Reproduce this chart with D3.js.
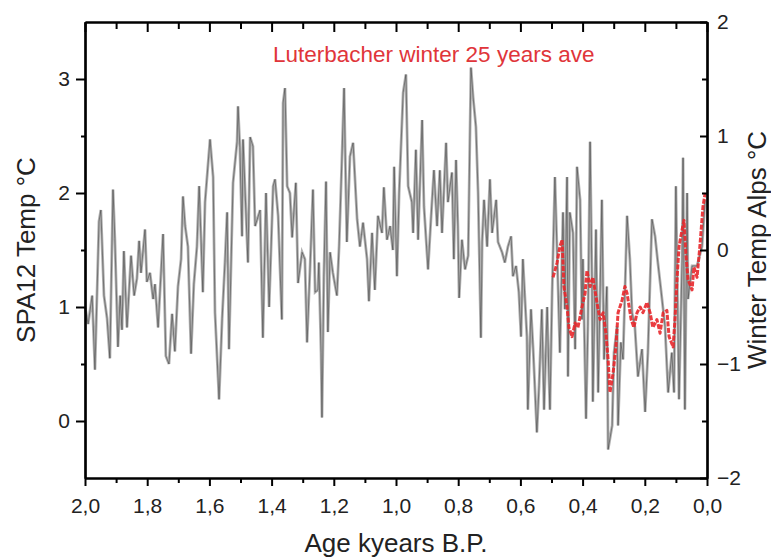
<!DOCTYPE html>
<html>
<head>
<meta charset="utf-8">
<script src="https://cdn.jsdelivr.net/npm/d3@7"></script>
<style>
  body { margin: 0; background: #fff; }
  svg { font-family: "Liberation Sans", Arial, sans-serif; }
</style>
</head>
<body>
<svg id="chart"></svg>
<script>
// ===========================
// Data
// ===========================

// SPA12 stalagmite temperature (left axis), age in kyears B.P.
const spaAge = [2.000,1.990,1.977,1.968,1.955,1.949,1.939,1.929,1.920,1.910,1.904,1.894,1.887,1.881,1.875,1.865,
  1.852,1.842,1.833,1.826,1.820,1.807,1.801,1.791,1.781,1.775,1.765,1.749,1.740,1.730,1.720,1.711,1.701,1.691,
  1.685,1.678,1.669,1.659,1.650,1.640,1.633,1.627,1.621,1.614,1.598,1.588,1.582,1.572,1.569,1.559,1.550,1.543,
  1.537,1.524,1.511,1.508,1.502,1.495,1.492,1.476,1.469,1.460,1.453,1.437,1.428,1.418,1.408,1.395,1.389,1.379,
  1.367,1.363,1.357,1.350,1.341,1.334,1.322,1.315,1.302,1.293,1.286,1.277,1.267,1.260,1.251,1.248,1.241,1.238,
  1.232,1.225,1.219,1.212,1.203,1.190,1.183,1.174,1.167,1.161,1.158,1.148,1.138,1.125,1.116,1.106,1.093,1.087,
  1.077,1.068,1.058,1.045,1.039,1.029,1.019,1.010,1.006,0.997,0.990,0.987,0.977,0.968,0.961,0.949,0.945,0.936,
  0.929,0.916,0.910,0.897,0.887,0.878,0.868,0.859,0.852,0.839,0.833,0.820,0.814,0.807,0.801,0.797,0.788,0.778,
  0.768,0.765,0.759,0.752,0.743,0.736,0.727,0.723,0.717,0.707,0.698,0.691,0.678,0.672,0.659,0.650,0.640,0.630,
  0.624,0.614,0.605,0.598,0.592,0.579,0.576,0.566,0.559,0.547,0.540,0.531,0.524,0.514,0.508,0.505,0.498,0.489,
  0.482,0.473,0.463,0.457,0.450,0.447,0.441,0.431,0.424,0.418,0.408,0.402,0.399,0.389,0.383,0.376,0.370,0.367,
  0.357,0.350,0.338,0.331,0.322,0.318,0.305,0.299,0.289,0.286,0.277,0.270,0.257,0.248,0.241,0.232,0.222,0.209,
  0.199,0.190,0.177,0.167,0.158,0.148,0.135,0.125,0.113,0.106,0.100,0.090,0.080,0.077,0.071,0.064,0.061,0.048,
  0.032,0.016,0.006];
const spaTemp = [1.00,0.85,1.10,0.45,1.75,1.85,1.10,0.90,0.55,2.03,1.60,0.65,1.10,0.80,1.49,0.82,
  1.45,1.10,1.25,1.58,1.30,1.68,1.22,1.30,1.07,1.20,0.82,1.64,0.57,0.50,0.94,0.61,1.18,1.42,
  1.97,1.71,1.53,0.59,1.20,1.53,2.06,1.60,1.13,1.92,2.47,2.14,0.95,0.37,0.19,0.90,1.39,1.83,
  0.63,2.09,2.45,2.76,2.40,1.62,2.47,1.39,2.49,2.41,1.71,1.85,0.73,2.00,1.00,2.06,2.12,1.80,
  0.89,2.79,2.92,2.06,2.00,1.61,2.09,1.21,1.48,1.42,0.69,1.30,2.03,1.13,1.15,1.39,0.60,0.03,
  1.27,2.10,0.78,1.48,1.30,1.10,1.53,2.29,2.92,2.00,1.57,2.32,2.44,1.77,1.53,1.74,1.42,1.05,
  1.65,1.15,1.80,1.65,2.05,1.59,1.71,1.50,2.23,1.27,2.00,2.20,2.88,3.04,2.06,1.92,1.65,2.38,
  1.59,2.64,1.88,1.33,1.80,2.20,1.71,2.20,1.65,2.44,1.92,2.18,1.42,2.29,1.71,1.08,1.59,1.33,
  1.45,2.00,3.10,2.84,2.58,2.00,0.73,1.57,1.94,1.53,2.12,1.65,1.94,1.57,1.48,1.39,1.53,1.62,
  1.27,1.36,1.13,0.74,1.42,0.74,0.10,0.98,0.63,-0.10,0.31,0.98,0.10,1.00,0.37,0.10,1.13,2.14,
  1.48,0.60,1.83,0.98,2.14,0.39,1.83,1.65,0.63,2.23,1.94,0.89,1.42,0.02,0.83,2.45,1.27,0.17,
  1.68,0.25,1.94,0.54,1.18,-0.25,-0.04,0.60,0.83,-0.04,0.69,0.54,1.80,1.42,0.95,0.83,0.39,0.63,
  0.08,0.60,1.77,1.62,1.39,1.15,0.83,0.25,0.60,0.25,2.06,0.19,1.42,2.31,0.10,2.00,1.07,1.36,
  1.36,1.53,1.94];

// Luterbacher winter temperature, 25 years average (right axis)
const lutAge = [0.495,0.482,0.473,0.466,0.460,0.450,0.444,0.434,0.424,0.415,0.402,0.392,0.386,0.376,0.367,0.354,
  0.344,0.334,0.325,0.318,0.312,0.302,0.293,0.286,0.273,0.264,0.257,0.244,0.235,0.225,0.215,0.206,0.193,0.183,
  0.174,0.161,0.151,0.141,0.129,0.122,0.109,0.103,0.096,0.090,0.080,0.074,0.068,0.061,0.048,0.042,0.032,0.023,
  0.013,0.006];
const lutTemp = [-0.24,-0.11,0.03,0.09,-0.32,-0.50,-0.68,-0.76,-0.64,-0.68,-0.50,-0.38,-0.18,-0.32,-0.24,-0.46,
  -0.61,-0.55,-0.73,-0.96,-1.25,-1.08,-0.85,-0.55,-0.44,-0.32,-0.38,-0.61,-0.68,-0.55,-0.50,-0.55,-0.46,-0.55,
  -0.68,-0.61,-0.73,-0.55,-0.53,-0.76,-0.85,-0.61,-0.24,0.03,0.18,0.26,-0.03,-0.26,-0.35,-0.15,-0.24,0.03,
  0.38,0.50];

// Ticks
const xMajor = [2.0,1.8,1.6,1.4,1.2,1.0,0.8,0.6,0.4,0.2,0.0];
const xMinor = [1.9,1.7,1.5,1.3,1.1,0.9,0.7,0.5,0.3,0.1];
const yLeftMajor = [0,1,2,3];
const yLeftMinor = [0.5,1.5,2.5];
const yRightMajor = [-2,-1,0,1,2];
const yRightMinor = [-1.5,-0.5,0.5,1.5];

// ===========================
// Layout
// ===========================
const W = 771, H = 557;
const margin = { top: 22, right: 64, bottom: 79, left: 85 };
const width = W - margin.left - margin.right,
      height = H - margin.top - margin.bottom;

const svg = d3.select("#chart")
  .attr("width", W)
  .attr("height", H);

const g = svg.append("g")
  .attr("transform", `translate(${margin.left},${margin.top})`);

// Scales
const x = d3.scaleLinear().domain([2, 0]).range([0, width]);
const yL = d3.scaleLinear().domain([-0.5, 3.5]).range([height, 0]);
const yR = d3.scaleLinear().domain([-2, 2]).range([height, 0]);

const comma = d => d3.format(".1f")(d).replace(".", ",");

// ===========================
// Lines
// ===========================
const spa = spaAge.map((a, i) => ({ age: a, t: spaTemp[i] }));
const lut = lutAge.map((a, i) => ({ age: a, t: lutTemp[i] }));

const lineL = d3.line().x(d => x(d.age)).y(d => yL(d.t));
const lineR = d3.line().x(d => x(d.age)).y(d => yR(d.t));

// grey envelope
g.append("path")
  .datum(spa)
  .attr("fill", "none")
  .attr("stroke", "#b2b2b2")
  .attr("stroke-width", 2.8)
  .attr("d", lineL);

// black thin line on top
g.append("path")
  .datum(spa)
  .attr("fill", "none")
  .attr("stroke", "#1e1e1e")
  .attr("stroke-width", 0.7)
  .attr("stroke-opacity", 0.6)
  .attr("d", lineL);

// Luterbacher red
g.append("path")
  .datum(lut)
  .attr("fill", "none")
  .attr("stroke", "#e8272b")
  .attr("stroke-width", 3)
  .attr("stroke-opacity", 0.9)
  .attr("stroke-dasharray", "5,1.5")
  .attr("stroke-linejoin", "round")
  .attr("d", lineR);

// ===========================
// Axes
// ===========================
function styleAxis(sel) {
  sel.select(".domain").attr("stroke", "#000").attr("stroke-width", 2.2);
  sel.selectAll(".tick line").attr("stroke", "#000").attr("stroke-width", 2);
  sel.selectAll(".tick text").attr("fill", "#222").style("font-size", "21px");
}

// bottom
g.append("g")
  .attr("transform", `translate(0,${height})`)
  .call(d3.axisBottom(x).tickValues(xMinor).tickSizeInner(5).tickSizeOuter(0).tickFormat(""))
  .call(styleAxis);
g.append("g")
  .attr("transform", `translate(0,${height})`)
  .call(d3.axisBottom(x).tickValues(xMajor).tickSizeInner(8).tickSizeOuter(0).tickPadding(12).tickFormat(comma))
  .call(styleAxis);

// top (inward ticks, no labels)
g.append("g")
  .call(d3.axisTop(x).tickValues(xMinor).tickSizeInner(-7).tickSizeOuter(0).tickFormat(""))
  .call(styleAxis);
g.append("g")
  .call(d3.axisTop(x).tickValues(xMajor).tickSizeInner(-10).tickSizeOuter(0).tickFormat(""))
  .call(styleAxis);

// left
g.append("g")
  .call(d3.axisLeft(yL).tickValues(yLeftMinor).tickSizeInner(4).tickSizeOuter(0).tickFormat(""))
  .call(styleAxis);
g.append("g")
  .call(d3.axisLeft(yL).tickValues(yLeftMajor).tickSizeInner(9).tickSizeOuter(0).tickPadding(6).tickFormat(d3.format("d")))
  .call(styleAxis);

// right (inward ticks)
g.append("g")
  .attr("transform", `translate(${width},0)`)
  .call(d3.axisRight(yR).tickValues(yRightMinor).tickSizeInner(-5).tickSizeOuter(0).tickFormat(""))
  .call(styleAxis);
g.append("g")
  .attr("transform", `translate(${width},0)`)
  .call(d3.axisRight(yR).tickValues(yRightMajor).tickSizeInner(-7).tickSizeOuter(0).tickPadding(10).tickFormat(d3.format("d")))
  .call(styleAxis);

// ===========================
// Labels
// ===========================
g.append("text")
  .attr("x", width / 2)
  .attr("y", height + 74)
  .attr("text-anchor", "middle")
  .attr("fill", "#222")
  .style("font-size", "26px")
  .text("Age kyears B.P.");

g.append("text")
  .attr("transform", "rotate(-90)")
  .attr("x", -height / 2)
  .attr("y", -margin.left + 35)
  .attr("text-anchor", "middle")
  .attr("fill", "#222")
  .style("font-size", "26px")
  .text("SPA12 Temp °C");

g.append("text")
  .attr("transform", "rotate(-90)")
  .attr("x", -height / 2)
  .attr("y", width + 59)
  .attr("text-anchor", "middle")
  .attr("fill", "#222")
  .style("font-size", "26px")
  .text("Winter Temp Alps °C");

g.append("text")
  .attr("x", 188)
  .attr("y", 40)
  .attr("fill", "#e0353a")
  .style("font-size", "22.5px")
  .text("Luterbacher winter 25 years ave");
</script>
</body>
</html>
